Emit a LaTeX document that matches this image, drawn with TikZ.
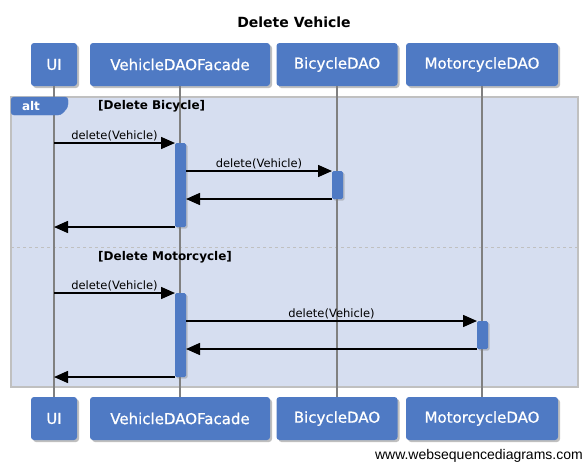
\documentclass[tikz,border=0pt]{standalone}
\usepackage{fontspec}
\setmainfont{DejaVu Sans}
\newfontfamily\objfont[FakeBold=0.8]{DejaVu Sans}
\newfontfamily\wwwfont{Liberation Sans}
\usetikzlibrary{arrows.meta,shadows}
\definecolor{objblue}{RGB}{79,122,196}
\definecolor{framefill}{RGB}{214,222,240}
\definecolor{framegray}{RGB}{192,192,192}

\begin{document}
\begin{tikzpicture}[x=1pt,y=-1pt,
  obj/.style={fill=objblue, rounded corners=3pt, text=white, minimum height=43pt, inner sep=0pt, outer sep=0pt,
    font=\objfont\fontsize{15}{18}\selectfont, drop shadow={shadow xshift=2pt, shadow yshift=-2pt, opacity=.5}},
  act/.style={fill=objblue, rounded corners=1.5pt, minimum width=11pt, inner sep=0pt, outer sep=0pt,
    drop shadow={shadow xshift=1.5pt, shadow yshift=-1.5pt, opacity=.4}},
  life/.style={gray, line width=1.5pt},
  msg/.style={line width=1.5pt, -{Triangle[length=14pt,width=12pt]}},
  lbl/.style={font=\fontsize{11.5}{13}\selectfont, inner sep=1pt},
  guard/.style={font=\bfseries\fontsize{12}{14}\selectfont, anchor=west, inner sep=0pt}]

\fill[white] (0,0) rectangle (587,464);
\useasboundingbox (0,0) rectangle (587,464);

\node[font=\bfseries\fontsize{14}{16}\selectfont] (title) at (294,22) {Delete Vehicle};

\draw[framegray, fill=framefill, line width=1.5pt] (11,97) rectangle (578,387);
\draw[framegray, dashed, line width=1pt] (11,247) -- (578,247);

\node[obj, minimum width=46pt] (ui) at (54,64.5) {UI};
\node[obj, minimum width=180pt] (fac) at (180,64.5) {VehicleDAOFacade};
\node[obj, minimum width=121pt] (bic) at (337,64.5) {BicycleDAO};
\node[obj, minimum width=152pt] (mot) at (482,64.5) {MotorcycleDAO};

\node[obj, minimum width=46pt] (ui2) at (54,418.5) {UI};
\node[obj, minimum width=180pt] (fac2) at (180,418.5) {VehicleDAOFacade};
\node[obj, minimum width=121pt] (bic2) at (337,418.5) {BicycleDAO};
\node[obj, minimum width=152pt] (mot2) at (482,418.5) {MotorcycleDAO};

\draw[life] (ui.south) -- (ui2.north);
\draw[life] (fac.south) -- (fac2.north);
\draw[life] (bic.south) -- (bic2.north);
\draw[life] (mot.south) -- (mot2.north);

\filldraw[objblue, rounded corners=3pt] (11,97) -- (68,97) -- (68,107) -- (61,115) -- (11,115) -- cycle;
\node[text=white, font=\bfseries\fontsize{12}{14}\selectfont] (alt) at (31,106) {alt};
\node[guard] (g1) at (98,106) {[Delete Bicycle]};
\node[guard] (g2) at (98,257) {[Delete Motorcycle]};

\node[act, minimum height=84pt] (f1) at (180.5,185) {};
\node[act, minimum height=28pt] (b1) at (337.5,185) {};
\node[act, minimum height=84pt] (f2) at (180.5,335) {};
\node[act, minimum height=28pt] (m1) at (482.5,335) {};

\draw[msg] (ui |- f1.north) -- node[lbl, above] {delete(Vehicle)} (f1.north west);
\draw[msg] (f1.east |- b1.north) -- node[lbl, above] {delete(Vehicle)} (b1.north west);
\draw[msg] (b1.south west) -- (f1.east |- b1.south);
\draw[msg] (f1.south west) -- (ui |- f1.south);

\draw[msg] (ui |- f2.north) -- node[lbl, above] {delete(Vehicle)} (f2.north west);
\draw[msg] (f2.east |- m1.north) -- node[lbl, above] {delete(Vehicle)} (m1.north west);
\draw[msg] (m1.south west) -- (f2.east |- m1.south);
\draw[msg] (f2.south west) -- (ui |- f2.south);

\node[anchor=east, font=\wwwfont\fontsize{14}{16}\selectfont, inner sep=0pt] (www) at (583,456) {www.websequencediagrams.com};

\end{tikzpicture}
\end{document}
